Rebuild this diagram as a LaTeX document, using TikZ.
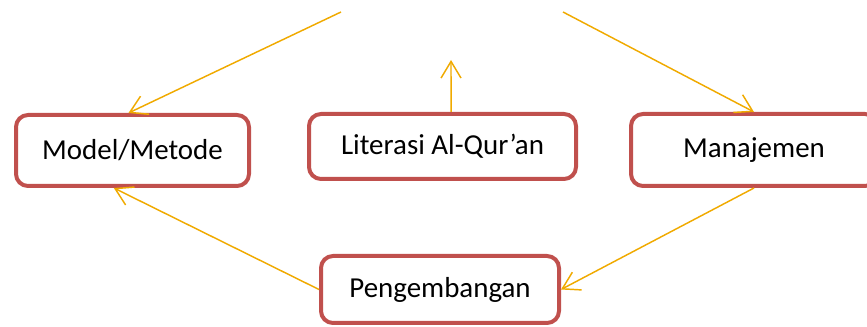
\documentclass[tikz,border=0pt]{standalone}
\usepackage{fontspec}
\setmainfont{Carlito}
\usetikzlibrary{arrows.meta}
\definecolor{boxred}{RGB}{192,80,77}
\definecolor{arrorange}{RGB}{240,170,0}
\tikzset{
  box/.style={draw=boxred, line width=3pt, rounded corners=9pt, fill=white,
    font=\fontsize{21.7pt}{26pt}\selectfont, text=black, inner sep=0pt},
  conn/.style={draw=arrorange, line width=1.1pt,
    -{Straight Barb[length=12.5pt,width=15pt,line width=1.1pt]}}
}
\begin{document}
\begin{tikzpicture}[x=0.75pt,y=-0.75pt]
\useasboundingbox (0,0) rectangle (867,327);
\node[box, minimum width=174.75pt, minimum height=53.25pt] (model) at (132.5,150.5) {Model/Metode};
\node[box, minimum width=200.25pt, minimum height=48.75pt] (lit) at (442.5,146.5) {Literasi Al-Qur’an};
\node[box, minimum width=184.5pt, minimum height=54pt] (man) at (754,150) {Manajemen};
\node[box, minimum width=178.5pt, minimum height=50.25pt] (peng) at (440,289.5) {Pengembangan};
\coordinate (tl) at (341,12);
\coordinate (tr) at (563,12);
\coordinate (tm) at (451,60);
\draw[conn] (tl) -- ([xshift=-3pt]model.north);
\draw[conn] ([xshift=6.4pt]lit.north) -- (tm);
\draw[conn] (tr) -- (man.north);
\draw[conn] (man.south) -- (peng.east);
\draw[conn] (peng.west) -- ([xshift=-14pt]model.south);
\end{tikzpicture}
\end{document}
